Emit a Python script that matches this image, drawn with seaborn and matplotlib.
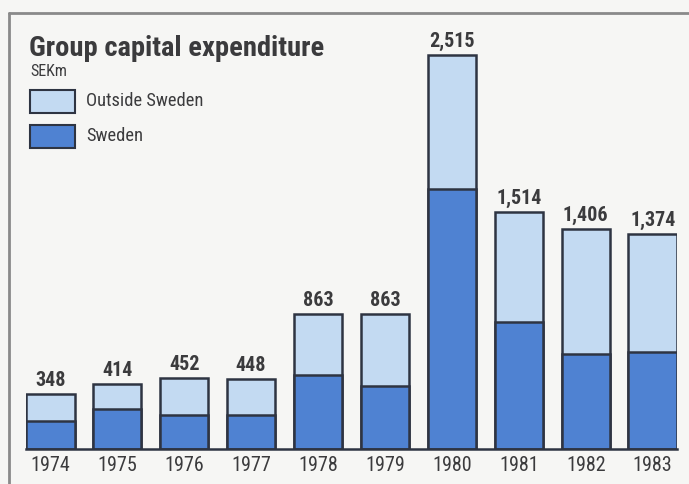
import matplotlib
matplotlib.use("Agg")
import matplotlib.pyplot as plt
from matplotlib.lines import Line2D
from matplotlib.patches import Rectangle
import seaborn as sns
import pandas as pd

# Capital expenditure, SEK millions
years = ["1974", "1975", "1976", "1977", "1978", "1979", "1980", "1981", "1982", "1983"]
total = [348, 414, 452, 448, 863, 863, 2515, 1514, 1406, 1374]
sweden = [176, 254, 216, 219, 473, 400, 1660, 808, 609, 621]

LIGHT = "#c3daf2"
DARK = "#4f82d2"
EDGE = "#2e3442"
TEXT = "#3b3b3d"
BG = "#f6f6f4"

sns.set_theme(style="white")
plt.rcParams["font.family"] = ["Roboto Condensed", "Archivo Narrow", "DejaVu Sans"]

W, H = 689, 484
fig = plt.figure(figsize=(W / 100, H / 100), dpi=100, facecolor=BG)

# axes placed in pixel terms: baseline at y=449, bars from x=26 to x=677
base_y, top_y = 449, 13
left_x, right_x = 26, 677
ax = fig.add_axes([left_x / W, 1 - base_y / H, (right_x - left_x) / W, (base_y - top_y) / H])
ax.set_facecolor("none")

df = pd.DataFrame({"year": years, "total": total, "sweden": sweden})
bw = 0.725
sns.barplot(data=df, x="year", y="total", color=LIGHT, saturation=1, width=bw,
            edgecolor=EDGE, linewidth=1.8, ax=ax)
sns.barplot(data=df, x="year", y="sweden", color=DARK, saturation=1, width=bw,
            edgecolor=EDGE, linewidth=1.8, ax=ax)

ax.bar_label(ax.containers[0], labels=[f"{v:,}" for v in total], padding=3,
             fontsize=14.5, fontweight="bold", color=TEXT)

px_per_unit = (449 - 55) / 2515
ax.set_xlim(-bw / 2, len(years) - 1 + bw / 2)
ax.set_ylim(0, (base_y - top_y) / px_per_unit)

for s in ["top", "right", "left"]:
    ax.spines[s].set_visible(False)
ax.spines["bottom"].set_color(EDGE)
ax.spines["bottom"].set_linewidth(1.8)
ax.set_yticks([])
ax.set_xlabel("")
ax.set_ylabel("")
ax.tick_params(axis="x", length=0, pad=5, labelsize=14.5, labelcolor=TEXT)

# frame lines along the top and left
fig.add_artist(Line2D([9 / W, 1], [1 - 13 / H, 1 - 13 / H], color="#8a8a8a", lw=2))
fig.add_artist(Line2D([9 / W, 9 / W], [0, 1 - 13 / H], color="#8a8a8a", lw=2))

# title, unit and legend
fig.text(29 / W, 1 - 48 / H, "Group capital expenditure", fontsize=20.5, fontweight="bold",
         color=TEXT, va="center", ha="left")
fig.text(30 / W, 1 - 71 / H, "SEKm", fontsize=11.5, color=TEXT, va="center", ha="left")
for (y0, label, col) in [(90, "Outside Sweden", LIGHT), (125, "Sweden", DARK)]:
    fig.add_artist(Rectangle((30 / W, 1 - (y0 + 23) / H), 45 / W, 23 / H,
                             facecolor=col, edgecolor=EDGE, lw=1.5, transform=fig.transFigure))
    fig.text(86 / W, 1 - (y0 + 11.5) / H, label, fontsize=13.3, color=TEXT, va="center", ha="left")

fig.savefig("out.png", dpi=100, facecolor=BG)
